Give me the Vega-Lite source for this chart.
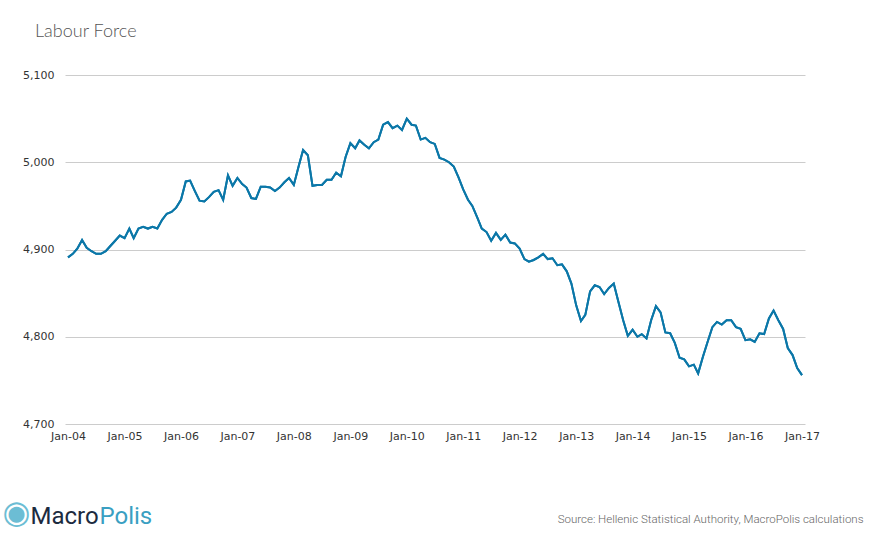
{
  "$schema": "https://vega.github.io/schema/vega-lite/v6.json",
  "width": 740,
  "height": 349,
  "autosize": {"type": "none"},
  "padding": {"left": 65, "top": 75, "right": 65, "bottom": 126},
  "background": "white",
  "title": {"text": "Labour Force", "anchor": "start", "frame": "group", "dx": -30, "offset": 28, "font": "Lato", "fontSize": 18, "fontWeight": 300, "color": "#555555"},
  "config": {"view": {"stroke": null}},
  "data": {
    "format": {"parse": {"date": "date:'%Y-%m'"}},
    "values": [
      {"date":"2004-01","value":4891},{"date":"2004-02","value":4895},{"date":"2004-03","value":4901},{"date":"2004-04","value":4911},{"date":"2004-05","value":4902},{"date":"2004-06","value":4898},{"date":"2004-07","value":4895},{"date":"2004-08","value":4895},{"date":"2004-09","value":4898},{"date":"2004-10","value":4904},{"date":"2004-11","value":4910},{"date":"2004-12","value":4916},
      {"date":"2005-01","value":4913},{"date":"2005-02","value":4924},{"date":"2005-03","value":4913},{"date":"2005-04","value":4924},{"date":"2005-05","value":4926},{"date":"2005-06","value":4924},{"date":"2005-07","value":4926},{"date":"2005-08","value":4924},{"date":"2005-09","value":4934},{"date":"2005-10","value":4941},{"date":"2005-11","value":4943},{"date":"2005-12","value":4948},
      {"date":"2006-01","value":4957},{"date":"2006-02","value":4978},{"date":"2006-03","value":4979},{"date":"2006-04","value":4967},{"date":"2006-05","value":4956},{"date":"2006-06","value":4955},{"date":"2006-07","value":4960},{"date":"2006-08","value":4966},{"date":"2006-09","value":4968},{"date":"2006-10","value":4957},{"date":"2006-11","value":4985},{"date":"2006-12","value":4973},
      {"date":"2007-01","value":4982},{"date":"2007-02","value":4975},{"date":"2007-03","value":4971},{"date":"2007-04","value":4959},{"date":"2007-05","value":4958},{"date":"2007-06","value":4972},{"date":"2007-07","value":4972},{"date":"2007-08","value":4971},{"date":"2007-09","value":4967},{"date":"2007-10","value":4971},{"date":"2007-11","value":4977},{"date":"2007-12","value":4982},
      {"date":"2008-01","value":4974},{"date":"2008-02","value":4995},{"date":"2008-03","value":5014},{"date":"2008-04","value":5008},{"date":"2008-05","value":4973},{"date":"2008-06","value":4974},{"date":"2008-07","value":4974},{"date":"2008-08","value":4980},{"date":"2008-09","value":4980},{"date":"2008-10","value":4988},{"date":"2008-11","value":4984},{"date":"2008-12","value":5006},
      {"date":"2009-01","value":5022},{"date":"2009-02","value":5016},{"date":"2009-03","value":5025},{"date":"2009-04","value":5020},{"date":"2009-05","value":5016},{"date":"2009-06","value":5023},{"date":"2009-07","value":5026},{"date":"2009-08","value":5043},{"date":"2009-09","value":5046},{"date":"2009-10","value":5039},{"date":"2009-11","value":5042},{"date":"2009-12","value":5037},
      {"date":"2010-01","value":5050},{"date":"2010-02","value":5043},{"date":"2010-03","value":5042},{"date":"2010-04","value":5026},{"date":"2010-05","value":5028},{"date":"2010-06","value":5023},{"date":"2010-07","value":5021},{"date":"2010-08","value":5005},{"date":"2010-09","value":5003},{"date":"2010-10","value":5000},{"date":"2010-11","value":4995},{"date":"2010-12","value":4983},
      {"date":"2011-01","value":4969},{"date":"2011-02","value":4957},{"date":"2011-03","value":4950},{"date":"2011-04","value":4937},{"date":"2011-05","value":4924},{"date":"2011-06","value":4920},{"date":"2011-07","value":4910},{"date":"2011-08","value":4919},{"date":"2011-09","value":4911},{"date":"2011-10","value":4917},{"date":"2011-11","value":4908},{"date":"2011-12","value":4907},
      {"date":"2012-01","value":4901},{"date":"2012-02","value":4889},{"date":"2012-03","value":4886},{"date":"2012-04","value":4888},{"date":"2012-05","value":4891},{"date":"2012-06","value":4895},{"date":"2012-07","value":4889},{"date":"2012-08","value":4890},{"date":"2012-09","value":4882},{"date":"2012-10","value":4883},{"date":"2012-11","value":4875},{"date":"2012-12","value":4861},
      {"date":"2013-01","value":4836},{"date":"2013-02","value":4818},{"date":"2013-03","value":4825},{"date":"2013-04","value":4852},{"date":"2013-05","value":4859},{"date":"2013-06","value":4857},{"date":"2013-07","value":4849},{"date":"2013-08","value":4856},{"date":"2013-09","value":4861},{"date":"2013-10","value":4840},{"date":"2013-11","value":4819},{"date":"2013-12","value":4801},
      {"date":"2014-01","value":4808},{"date":"2014-02","value":4800},{"date":"2014-03","value":4803},{"date":"2014-04","value":4798},{"date":"2014-05","value":4819},{"date":"2014-06","value":4835},{"date":"2014-07","value":4828},{"date":"2014-08","value":4805},{"date":"2014-09","value":4804},{"date":"2014-10","value":4793},{"date":"2014-11","value":4776},{"date":"2014-12","value":4774},
      {"date":"2015-01","value":4766},{"date":"2015-02","value":4768},{"date":"2015-03","value":4758},{"date":"2015-04","value":4777},{"date":"2015-05","value":4794},{"date":"2015-06","value":4811},{"date":"2015-07","value":4817},{"date":"2015-08","value":4814},{"date":"2015-09","value":4819},{"date":"2015-10","value":4819},{"date":"2015-11","value":4811},{"date":"2015-12","value":4809},
      {"date":"2016-01","value":4796},{"date":"2016-02","value":4797},{"date":"2016-03","value":4794},{"date":"2016-04","value":4804},{"date":"2016-05","value":4803},{"date":"2016-06","value":4821},{"date":"2016-07","value":4830},{"date":"2016-08","value":4819},{"date":"2016-09","value":4809},{"date":"2016-10","value":4787},{"date":"2016-11","value":4779},{"date":"2016-12","value":4764},
      {"date":"2017-01","value":4756}
    ]
  },
  "layer": [
    {
      "mark": {"type": "line", "color": "#0b77a8", "strokeWidth": 2},
      "encoding": {
        "x": {
          "field": "date", "type": "temporal",
          "scale": {"padding": 3},
          "axis": {
            "orient": "bottom", "format": "%b-%y", "tickCount": {"interval": "year", "step": 1},
            "grid": false, "ticks": false, "domain": false, "labelPadding": 6,
            "labelFont": "DejaVu Sans", "labelFontSize": 11, "labelColor": "#333333", "labelFlush": false,
            "title": "Source: Hellenic Statistical Authority, MacroPolis calculations",
            "titleX": 798, "titleY": 95, "titleAlign": "right", "titleBaseline": "middle",
            "titleFont": "Roboto", "titleFontSize": 11.5, "titleFontWeight": 300, "titleColor": "#666666"
          }
        },
        "y": {
          "field": "value", "type": "quantitative",
          "scale": {"domain": [4700, 5100], "zero": false, "nice": false},
          "axis": {
            "orient": "left", "values": [4700, 4800, 4900, 5000, 5100], "format": ",.0f",
            "grid": true, "gridColor": "#cccccc", "gridWidth": 1,
            "ticks": false, "domain": false, "labelPadding": 11,
            "labelFont": "DejaVu Sans", "labelFontSize": 11, "labelColor": "#333333",
            "title": "◉", "titleAngle": 0, "titleX": -49, "titleY": 437,
            "titleAlign": "center", "titleBaseline": "middle",
            "titleFont": "DejaVu Sans", "titleFontSize": 32, "titleFontWeight": 400, "titleColor": "#6cbdd4"
          }
        }
      }
    },
    {
      "mark": {"type": "line", "color": "#0b77a8", "strokeWidth": 2},
      "encoding": {
        "x": {
          "field": "date", "type": "temporal",
          "axis": {
            "orient": "top", "labels": false, "grid": false, "ticks": false, "domain": false,
            "title": "Macro", "titleX": -35, "titleY": 448, "titleAlign": "left", "titleBaseline": "alphabetic",
            "titleFont": "Roboto", "titleFontSize": 24, "titleFontWeight": 400, "titleColor": "#1c2b40"
          }
        },
        "y": {
          "field": "value", "type": "quantitative",
          "axis": {
            "orient": "right", "labels": false, "grid": false, "ticks": false, "domain": false,
            "title": "Polis", "titleAngle": 0, "titleX": -706, "titleY": 448, "titleAlign": "left", "titleBaseline": "alphabetic",
            "titleFont": "Roboto", "titleFontSize": 24, "titleFontWeight": 400, "titleColor": "#3a9fc2"
          }
        }
      }
    }
  ],
  "resolve": {"axis": {"x": "independent", "y": "independent"}}
}
